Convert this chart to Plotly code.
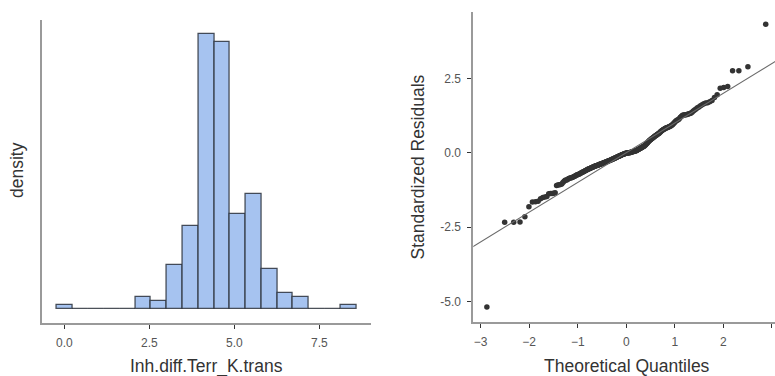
import plotly.graph_objects as go
from statistics import NormalDist

# ---------------- Histogram data (left panel) ----------------
bin_centers = [0.00, 0.464, 0.928, 1.392, 1.856, 2.32, 2.784, 3.248, 3.712, 4.176,
               4.64, 5.104, 5.568, 6.032, 6.496, 6.96, 7.424, 7.888, 8.352]
bin_width = 0.464
bin_counts = [1, 0, 0, 0, 0, 3, 2, 11, 21, 69, 67, 24, 29, 10, 4, 3, 0, 0, 1]
hist_ticks = [0.0, 2.5, 5.0, 7.5]
hist_ticklabels = ["0.0", "2.5", "5.0", "7.5"]

# ---------------- Q-Q data (right panel), sorted standardized residuals ----------------
residuals_lower = [
    -5.19, -2.34, -2.34, -2.33, -2.15, -1.82, -1.66, -1.65, -1.63, -1.55,
    -1.51, -1.49, -1.47, -1.38, -1.37, -1.37, -1.36, -1.35, -1.10, -1.09,
    -1.08, -1.07, -1.05, -1.00, -0.96, -0.93, -0.92, -0.91, -0.88, -0.86,
    -0.85, -0.84, -0.83, -0.82, -0.80, -0.79, -0.77, -0.75, -0.74, -0.73,
    -0.72, -0.71, -0.69, -0.67, -0.66, -0.65, -0.64, -0.62, -0.61, -0.60,
    -0.58, -0.57, -0.56, -0.55, -0.54, -0.53, -0.52, -0.51, -0.50, -0.49,
    -0.48, -0.47, -0.46, -0.45, -0.45, -0.44, -0.43, -0.42, -0.42, -0.41,
    -0.40, -0.39, -0.39, -0.38, -0.37, -0.36, -0.36, -0.35, -0.34, -0.33,
    -0.33, -0.32, -0.31, -0.30, -0.30, -0.29, -0.28, -0.28, -0.27, -0.26,
    -0.25, -0.25, -0.24, -0.23, -0.22, -0.21, -0.21, -0.20, -0.19, -0.18,
    -0.18, -0.17, -0.16, -0.15, -0.14, -0.13, -0.13, -0.12, -0.11, -0.10,
    -0.09, -0.09, -0.08, -0.07, -0.06, -0.06, -0.05, -0.04, -0.04, -0.03,
    -0.03, -0.02, -0.02,
]
residuals_upper = [
    -0.01, -0.01, -0.01, 0.00, 0.00, 0.00, 0.01, 0.01, 0.01, 0.02,
    0.02, 0.03, 0.03, 0.04, 0.04, 0.05, 0.06, 0.06, 0.07, 0.07,
    0.08, 0.09, 0.10, 0.11, 0.12, 0.13, 0.14, 0.15, 0.16, 0.17,
    0.18, 0.19, 0.20, 0.21, 0.22, 0.24, 0.25, 0.27, 0.29, 0.31,
    0.33, 0.35, 0.37, 0.39, 0.41, 0.43, 0.44, 0.46, 0.47, 0.49,
    0.50, 0.52, 0.53, 0.55, 0.56, 0.58, 0.59, 0.61, 0.62, 0.64,
    0.65, 0.67, 0.69, 0.71, 0.73, 0.75, 0.76, 0.78, 0.79, 0.81,
    0.82, 0.83, 0.84, 0.85, 0.86, 0.87, 0.88, 0.90, 0.91, 0.93,
    0.95, 0.98, 1.01, 1.04, 1.07, 1.09, 1.10, 1.12, 1.15, 1.19,
    1.22, 1.25, 1.27, 1.27, 1.28, 1.28, 1.29, 1.30, 1.32, 1.33,
    1.36, 1.40, 1.44, 1.47, 1.51, 1.54, 1.58, 1.61, 1.65, 1.67,
    1.68, 1.71, 1.76, 1.86, 1.95, 2.17, 2.19, 2.23, 2.76, 2.76,
    2.89, 4.32,
]
residuals = residuals_lower + residuals_upper
qq_ticks_x = [-3, -2, -1, 0, 1, 2, 3]
qq_ticks_y = [-5.0, -2.5, 0.0, 2.5]
qq_ticklabels_y = ["-5.0", "-2.5", "0.0", "2.5"]

n = len(residuals)
theoretical = [NormalDist().inv_cdf((i + 0.5) / n) for i in range(n)]

# ---------------- figure ----------------
W, H = 775, 376
FONT = "Liberation Sans, Arial, sans-serif"
AXIS_COL = "#9a9a9a"
TICK_COL = "#333333"
LABEL_COL = "#555555"
TITLE_COL = "#333333"

fig = go.Figure()

fig.add_trace(go.Bar(
    x=bin_centers, y=bin_counts, width=[bin_width] * len(bin_centers),
    marker=dict(color="#a6c3f0", line=dict(color="rgba(45,50,60,0.85)", width=1.3)),
    xaxis="x", yaxis="y", showlegend=False, hoverinfo="skip",
))

fig.add_trace(go.Scatter(
    x=theoretical, y=residuals, mode="markers",
    marker=dict(color="#333333", size=5.5, line=dict(width=0)),
    xaxis="x2", yaxis="y2", showlegend=False, hoverinfo="skip",
))

qx = [-3.3, 3.3]
fig.add_trace(go.Scatter(
    x=qx, y=qx, mode="lines", line=dict(color="#6a6a6a", width=1.1),
    xaxis="x2", yaxis="y2", showlegend=False, hoverinfo="skip",
))

def px_x(p):
    return p / W

def px_y(p):
    return 1 - p / H

common = dict(showgrid=False, zeroline=False, showline=True, linecolor=AXIS_COL,
              linewidth=1.8, ticks="outside", ticklen=4, tickwidth=1.2,
              tickcolor=TICK_COL, tickfont=dict(family=FONT, size=12, color=LABEL_COL))

fig.update_layout(
    width=W, height=H, margin=dict(l=0, r=0, t=0, b=0),
    paper_bgcolor="white", plot_bgcolor="white", bargap=0,
    font=dict(family=FONT),
    xaxis=dict(domain=[px_x(41.7), px_x(370.7)], range=[-0.665, 9.01],
               tickvals=hist_ticks, ticktext=hist_ticklabels, anchor="y",
               ticklabelstandoff=4, **common),
    yaxis=dict(domain=[px_y(323), px_y(20)], range=[-3.43, 72.5],
               showticklabels=False, anchor="x",
               **{k: v for k, v in common.items() if k not in ("ticks",)}, ticks=""),
    xaxis2=dict(domain=[px_x(473.3), 1.0], range=[-3.151, 3.063],
                tickvals=qq_ticks_x, anchor="y2", ticklabelstandoff=4, **common),
    yaxis2=dict(domain=[px_y(321.7), px_y(11.7)], range=[-5.684, 4.743],
                tickvals=qq_ticks_y, ticktext=qq_ticklabels_y, anchor="x2",
                ticklabelstandoff=4, **common),
)

title_font = dict(family=FONT, size=17.5, color=TITLE_COL)
fig.add_annotation(x=px_x(206.5), y=px_y(366), xref="paper", yref="paper",
                   text="Inh.diff.Terr_K.trans", showarrow=False, font=title_font,
                   xanchor="center", yanchor="middle")
fig.add_annotation(x=px_x(17), y=px_y(170), xref="paper", yref="paper",
                   text="density", showarrow=False, font=title_font, textangle=-90,
                   xanchor="center", yanchor="middle")
fig.add_annotation(x=px_x(627), y=px_y(366), xref="paper", yref="paper",
                   text="Theoretical Quantiles", showarrow=False, font=title_font,
                   xanchor="center", yanchor="middle")
fig.add_annotation(x=px_x(418), y=px_y(166.5), xref="paper", yref="paper",
                   text="Standardized Residuals", showarrow=False, font=title_font,
                   textangle=-90, xanchor="center", yanchor="middle")

fig.write_html("out.html")
